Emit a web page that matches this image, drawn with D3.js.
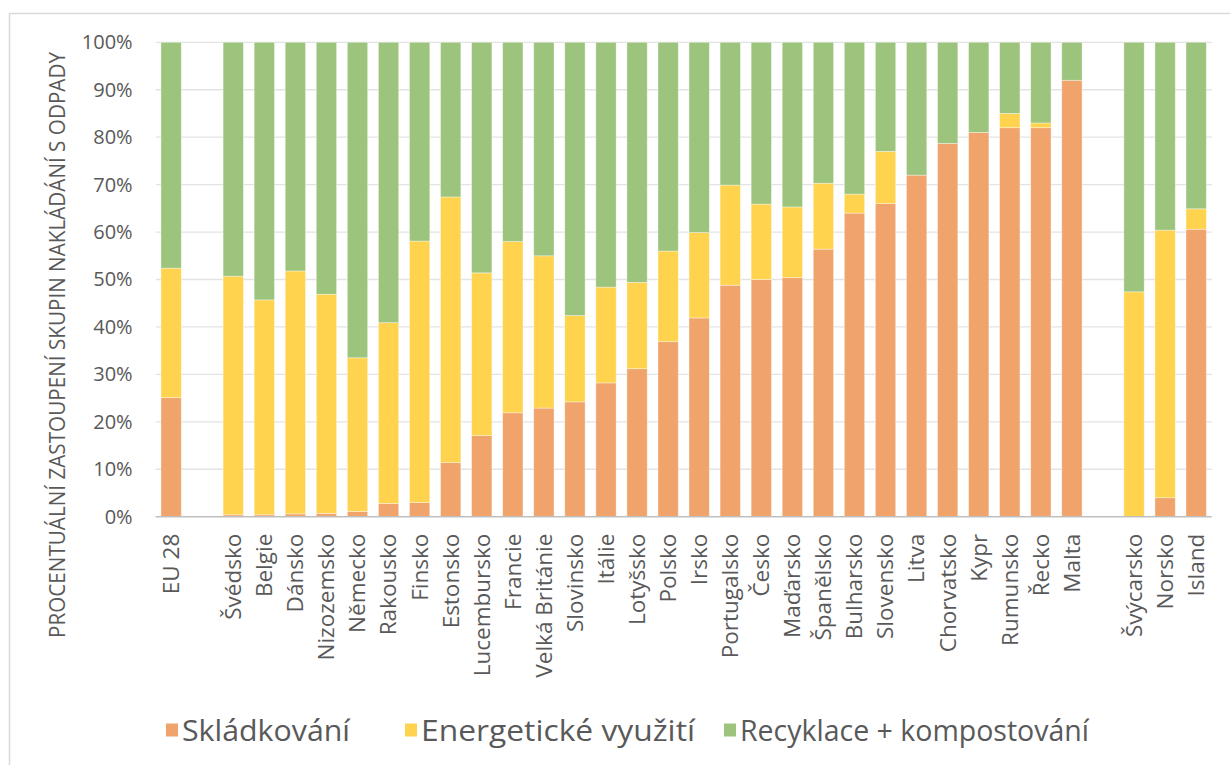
<!DOCTYPE html>
<html>
<head>
<meta charset="utf-8">
<script src="https://cdn.jsdelivr.net/npm/d3@7"></script>
<style>
  body { margin: 0; background: #fff; }
  text { font-family: "Open Sans", "Noto Sans", sans-serif; fill: #595959; }
</style>
</head>
<body>
<div id="chart"></div>
<script>
// country groups (EU average, EU members, non-EU)
var euAvg = ["EU 28"];
var members = ["Švédsko", "Belgie", "Dánsko", "Nizozemsko", "Německo", "Rakousko", "Finsko",
  "Estonsko", "Lucembursko", "Francie", "Velká Británie", "Slovinsko", "Itálie", "Lotyšsko",
  "Polsko", "Irsko", "Portugalsko", "Česko", "Maďarsko", "Španělsko", "Bulharsko", "Slovensko",
  "Litva", "Chorvatsko", "Kypr", "Rumunsko", "Řecko", "Malta"];
var nonEu = ["Švýcarsko", "Norsko", "Island"];

var categories = euAvg.concat(members, nonEu);

// percent shares, same order as categories
var landfill = [25.1, 0.4, 0.4, 0.6, 0.7, 1.1, 2.8, 3.0, 11.4, 17.1, 21.9, 22.9, 24.2, 28.2,
  31.2, 36.9, 41.9, 48.8, 50.0, 50.4, 56.4, 64.0, 66.0, 72.0, 78.7, 81.0, 82.0, 82.0, 92.0,
  0, 4.0, 60.6];
var energy = [27.3, 50.3, 45.3, 51.2, 46.2, 32.4, 38.1, 55.1, 56.0, 34.3, 36.1, 32.1, 18.2, 20.2,
  18.2, 19.1, 18.0, 21.1, 15.9, 14.9, 13.9, 4.0, 11.0, 0, 0, 0, 3.0, 1.0, 0,
  47.4, 56.4, 4.3];
var recycling = [47.6, 49.3, 54.3, 48.2, 53.1, 66.5, 59.1, 41.9, 32.6, 48.6, 42.0, 45.0, 57.6, 51.6,
  50.6, 44.0, 40.1, 30.1, 34.1, 34.7, 29.7, 32.0, 23.0, 28.0, 21.3, 19.0, 15.0, 17.0, 8.0,
  52.6, 39.6, 35.1];

var seriesNames = ["Skládkování", "Energetické využití", "Recyklace + kompostování"];
var yTicks = [0, 10, 20, 30, 40, 50, 60, 70, 80, 90, 100];

var width = 1230, height = 765;
var margin = { left: 155.6, right: 18.3, top: 42.3, bottom: 248.3 };
var colors = ["#F0A46C", "#FFD34E", "#9CC47C"];

var rows = categories.map(function (c, i) {
  return { cat: c, landfill: landfill[i], energy: energy[i], recycling: recycling[i] };
});

// empty slots between the groups
var slots = euAvg.concat(["_gap1"], members, ["_gap2"], nonEu);

var svg = d3.select("#chart").append("svg")
  .attr("width", width)
  .attr("height", height);

// outer frame
svg.append("rect")
  .attr("x", 9.5).attr("y", 13.5)
  .attr("width", 1260).attr("height", 800)
  .attr("fill", "none")
  .attr("stroke", "#D9D9D9")
  .attr("stroke-width", 1.5);

var x = d3.scaleBand()
  .domain(slots)
  .range([margin.left, width - margin.right])
  .paddingInner(0.346)
  .paddingOuter(0.173);

var y = d3.scaleLinear()
  .domain([0, 100])
  .range([height - margin.bottom, margin.top]);

// gridlines
svg.append("g")
  .selectAll("line")
  .data(yTicks.filter(function (t) { return t > 0; }))
  .enter()
  .append("line")
  .attr("x1", margin.left)
  .attr("x2", width - margin.right)
  .attr("y1", function (d) { return y(d); })
  .attr("y2", function (d) { return y(d); })
  .attr("stroke", "#E3E3E3")
  .attr("stroke-width", 1.3);

// y axis labels
var yAxis = svg.append("g")
  .attr("transform", "translate(" + (margin.left - 23) + ",0)")
  .call(d3.axisLeft(y).tickValues(yTicks).tickSize(0).tickPadding(0)
    .tickFormat(function (d) { return d + "%"; }));
yAxis.select(".domain").remove();
yAxis.selectAll("text")
  .style("font-family", "'Open Sans', sans-serif")
  .style("font-size", "20px")
  .attr("fill", "#595959");

// stacked bars
var stack = d3.stack().keys(["landfill", "energy", "recycling"]);
var layers = stack(rows);

svg.append("g")
  .selectAll("g")
  .data(layers)
  .enter()
  .append("g")
  .attr("fill", function (d, i) { return colors[i]; })
  .selectAll("rect")
  .data(function (d) { return d.filter(function (v) { return v[1] - v[0] > 0; }); })
  .enter()
  .append("rect")
  .attr("x", function (d) { return x(d.data.cat); })
  .attr("width", x.bandwidth())
  .attr("y", function (d) { return y(d[1]); })
  .attr("height", function (d) { return y(d[0]) - y(d[1]); })
  .attr("stroke", "#ffffff")
  .attr("stroke-opacity", 0.45)
  .attr("stroke-width", 0.8);

// baseline
svg.append("line")
  .attr("x1", margin.left)
  .attr("x2", width - margin.right)
  .attr("y1", y(0))
  .attr("y2", y(0))
  .attr("stroke", "#BFBFBF")
  .attr("stroke-width", 1.5);

// category labels, rotated
svg.append("g")
  .selectAll("text")
  .data(categories)
  .enter()
  .append("text")
  .attr("transform", function (d) {
    return "translate(" + (x(d) + x.bandwidth() / 2) + "," + (y(0) + 17) + ") rotate(-90)";
  })
  .attr("text-anchor", "end")
  .attr("dy", "0.35em")
  .style("font-size", "22.5px")
  .text(function (d) { return d; });

// y axis title
svg.append("text")
  .attr("transform", "translate(57," + 345 + ") rotate(-90)")
  .attr("text-anchor", "middle")
  .attr("dy", "0.36em")
  .attr("textLength", 586)
  .attr("lengthAdjust", "spacingAndGlyphs")
  .style("font-size", "21px")
  .text("PROCENTUÁLNÍ ZASTOUPENÍ SKUPIN NAKLÁDÁNÍ S ODPADY");

// legend
var legendX = [166, 405, 724];
var legendW = [168, 274, 349];
var legend = svg.append("g")
  .selectAll("g")
  .data(seriesNames)
  .enter()
  .append("g")
  .attr("transform", function (d, i) { return "translate(" + legendX[i] + ",730)"; });

legend.append("rect")
  .attr("x", 0).attr("y", -6.5)
  .attr("width", 12).attr("height", 13)
  .attr("fill", function (d, i) { return colors[i]; });

legend.append("text")
  .attr("x", 16)
  .attr("dy", "0.36em")
  .attr("textLength", function (d, i) { return legendW[i]; })
  .attr("lengthAdjust", "spacingAndGlyphs")
  .style("font-size", "30px")
  .text(function (d) { return d; });
</script>
</body>
</html>
